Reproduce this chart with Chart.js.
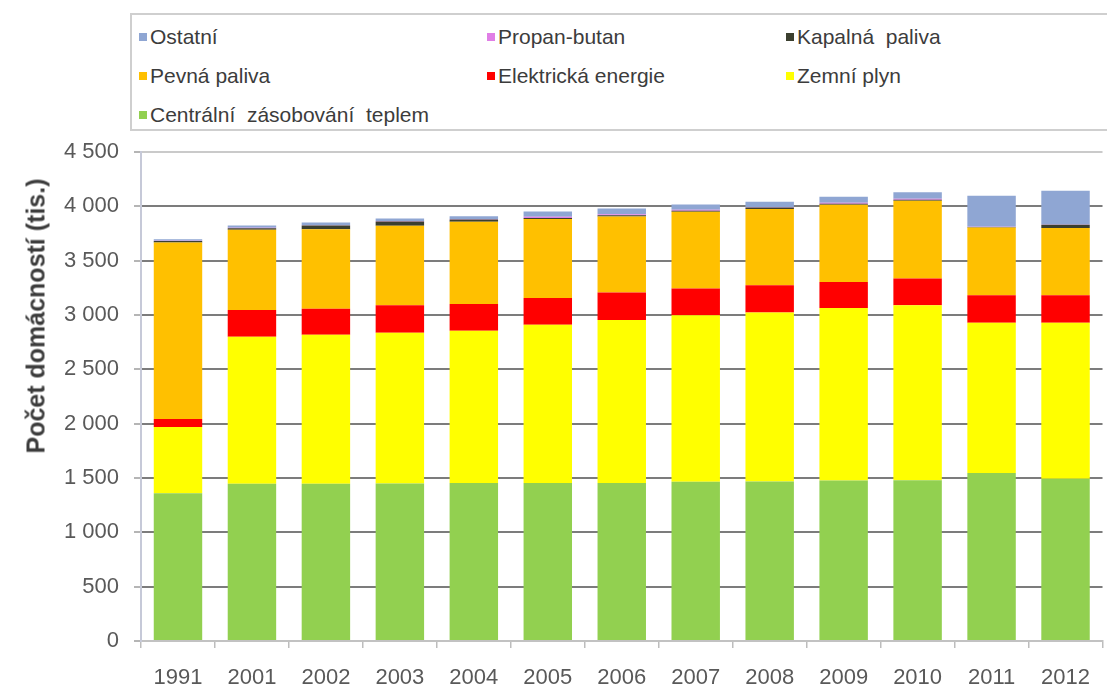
<!DOCTYPE html>
<html>
<head>
<meta charset="utf-8">
<script src="https://cdn.jsdelivr.net/npm/chart.js@4.4.1/dist/chart.umd.min.js"></script>
<style>
    body { margin: 0; background: #fff; }
    #wrap { position: relative; width: 1107px; height: 690px; overflow: hidden; font-family: "Liberation Sans", Arial, sans-serif; }
    #myChart { position: absolute; left: 0; top: 0; }
    #legendBox { position: absolute; left: 130px; top: 13px; width: 1000px; height: 118px; box-sizing: border-box; border: 2px solid #cfcfcf; background: #fff; }
    .leg-item { position: absolute; font-size: 21px; color: #3c3c3c; white-space: pre; line-height: 24px; }
    .leg-item span { display: inline-block; width: 8px; height: 8px; margin-right: 3px; vertical-align: 3px; }
    #yTitle { position: absolute; left: 36px; top: 316px; transform: translate(-50%, -50%) rotate(-90deg); font-size: 25px; font-weight: bold; color: #3c3c3c; white-space: nowrap; }
</style>
</head>
<body>
<div id="wrap">
    <canvas id="myChart" width="1107" height="690"></canvas>
    <div id="legendBox"></div>
    <div id="yTitle">Počet domácností (tis.)</div>
</div>
<script>
// roky
const years = ['1991', '2001', '2002', '2003', '2004', '2005', '2006', '2007', '2008', '2009', '2010', '2011', '2012'];

// pocet domacnosti (tis.) podle zpusobu vytapeni
const centralni = [1360, 1446, 1448, 1450, 1453, 1455, 1455, 1465, 1468, 1477, 1480, 1545, 1492];
const zemniPlyn = [609, 1354, 1370, 1387, 1402, 1456, 1498, 1532, 1554, 1587, 1609, 1384, 1437];
const elektricka = [74, 246, 240, 252, 246, 246, 253, 246, 252, 240, 246, 252, 252];
const pevnaPaliva = [1625, 738, 732, 732, 757, 726, 701, 707, 701, 711, 717, 625, 619];
const kapalnaPaliva = [12, 15, 34, 40, 20, 10, 10, 10, 15, 8, 8, 4, 30];
const propanButan = [3, 5, 3, 3, 5, 10, 10, 8, 5, 10, 10, 2, 3];
const ostatni = [15, 20, 25, 25, 25, 50, 54, 50, 48, 56, 59, 286, 311];

const yTicks = [0, 500, 1000, 1500, 2000, 2500, 3000, 3500, 4000, 4500];

const series = [
    { label: 'Centrální  zásobování  teplem', data: centralni, color: '#92d050' },
    { label: 'Zemní plyn', data: zemniPlyn, color: '#ffff00' },
    { label: 'Elektrická energie', data: elektricka, color: '#ff0000' },
    { label: 'Pevná paliva', data: pevnaPaliva, color: '#ffc000' },
    { label: 'Kapalná  paliva', data: kapalnaPaliva, color: '#3b3f2f' },
    { label: 'Propan-butan', data: propanButan, color: '#e07ee6' },
    { label: 'Ostatní', data: ostatni, color: '#8fa6d3' }
];

const fmt = (v) => {
    if (v < 1000) return String(v);
    return Math.floor(v / 1000) + ' ' + String(v % 1000).padStart(3, '0');
}

// legenda - 3 sloupce, obracene poradi
const renderLegend = () => {
    const cols = [137, 485, 784];
    const rows = [23, 62, 101];
    let html = '';
    series.slice().reverse().map((s, i) => {
        const x = cols[i % 3] - 130;
        const y = rows[Math.floor(i / 3)] - 13;
        html += '<div class="leg-item" style="left:' + x + 'px;top:' + y + 'px"><span style="background:' + s.color + '"></span>' + s.label + '</div>';
    })
    document.getElementById('legendBox').innerHTML = html;
}
renderLegend();

var ctx = document.getElementById('myChart').getContext('2d');
new Chart(ctx, {
    type: 'bar',
    data: {
        labels: years,
        datasets: series.map(s => ({
            label: s.label,
            data: s.data,
            backgroundColor: s.color,
            borderWidth: 0,
            barPercentage: 0.655,
            categoryPercentage: 1
        }))
    },
    options: {
        responsive: false,
        animation: false,
        devicePixelRatio: 1,
        layout: { padding: { top: 152, left: 0, right: 0, bottom: 0 } },
        plugins: {
            legend: { display: false },
            tooltip: { enabled: false }
        },
        scales: {
            x: {
                stacked: true,
                offset: true,
                grid: {
                    offset: true,
                    drawOnChartArea: false,
                    drawTicks: true,
                    tickLength: 7,
                    color: '#bdbdbd',
                    lineWidth: 1.5
                },
                border: { color: '#c2c2c2', width: 2 },
                ticks: {
                    color: '#595959',
                    padding: 17,
                    maxRotation: 0,
                    font: { family: '"Liberation Sans", Arial', size: 22 }
                },
                afterFit: (scale) => { scale.height = 49; }
            },
            y: {
                stacked: true,
                min: 0,
                max: 4500,
                afterBuildTicks: (scale) => { scale.ticks = yTicks.map(v => ({ value: v })); },
                grid: {
                    color: (c) => {
                        if (c.tick && c.tick.value === 4500) return '#cacaca';
                        if (c.tick && c.tick.value === 0) return '#c2c2c2';
                        return '#7c7c7c';
                    },
                    lineWidth: 2,
                    tickLength: 7,
                    tickColor: '#b5b5b5'
                },
                border: { color: '#c6c9d8', width: 2 },
                ticks: {
                    color: '#595959',
                    padding: 15,
                    font: { family: '"Liberation Sans", Arial', size: 22 },
                    callback: (v) => fmt(v)
                },
                afterFit: (scale) => { scale.width = 141; }
            }
        }
    }
});
</script>
</body>
</html>
